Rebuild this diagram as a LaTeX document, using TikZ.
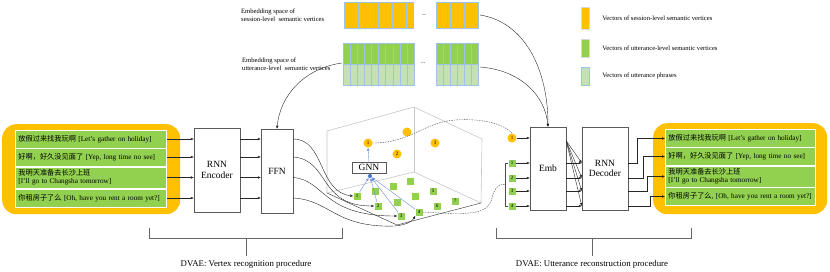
\documentclass[tikz,border=0pt]{standalone}
\usepackage{fontspec}
\setmainfont{Liberation Serif}
\newfontfamily\cjk{Noto Sans CJK SC}
\usepackage{xcolor}
\usetikzlibrary{arrows.meta,positioning,calc}
\definecolor{sessorange}{HTML}{FFC000}
\definecolor{uttgreen}{HTML}{92D050}
\definecolor{phrasegreen}{HTML}{C5E0B4}
\definecolor{cellblue}{HTML}{9DC3E6}
\definecolor{gnnblue}{HTML}{4472C4}
\newcommand{\uttfont}{\fontsize{7.2}{8}\selectfont}
\newcommand{\numfont}{\fontsize{5}{5}\selectfont}

\begin{document}
\begin{tikzpicture}[x=1pt, y=-1pt,
  font=\fontsize{9.5}{10.5}\selectfont,
  box/.style={draw=black!65, align=center, inner sep=0pt},
  grp/.style={fill=sessorange, rounded corners=14pt, anchor=north west},
  utt/.style={fill=uttgreen, draw=white, line width=0.9pt, anchor=west, text width=145pt, inner xsep=3pt, inner ysep=0pt, align=left, font=\uttfont, minimum height=18pt},
  arr/.style={-{Latex[length=3pt,width=2.6pt]}, black!85, line width=0.4pt},
  gline/.style={-{Latex[length=3pt,width=2.4pt]}, gnnblue!80, line width=0.4pt},
  link/.style={black!70, line width=0.4pt, dash pattern=on 1.5pt off 1pt},
  sv/.style={circle, fill=sessorange, inner sep=0pt, minimum size=9pt, font=\numfont},
  uv/.style={fill=uttgreen, inner sep=0pt, minimum size=7pt, font=\numfont},
  wall/.style={black!22, line width=0.6pt},
  cell/.style={draw=cellblue, line width=0.3pt},
  key/.style={draw=black!15, inner sep=0pt, minimum width=8pt, minimum height=18pt},
  lbl/.style={font=\fontsize{6.6}{8}\selectfont, align=left, anchor=west, inner sep=0pt},
  brace/.style={black!60, line width=0.4pt}
]
\useasboundingbox (0,0) rectangle (830,271);

\node[grp, minimum width=178pt, minimum height=90pt] (lgrp) at (2,124) {};
\node[utt] (l1) at (15,139) {{\cjk 放假过来找我玩啊} [Let's gather on holiday]};
\node[utt] (l2) at (15,157) {{\cjk 好啊，好久没见面了} [Yep, long time no see]};
\node[utt, minimum height=21pt] (l3) at (15,177.5) {{\cjk 我明天准备去长沙上班}\\{[}I'll go to Changsha tomorrow{]}};
\node[utt] (l4) at (15,198) {{\cjk 你租房子了么} [Oh, have you rent a room yet?]};

\node[box, minimum width=46pt, minimum height=84pt] (enc) at (217,170) {RNN\\Encoder};
\node[box, minimum width=32pt, minimum height=84pt] (ffn) at (277,171) {FFN};
\foreach \r in {l1,l2,l3,l4} {
  \draw[arr] (\r.east) -- (enc.west |- \r.east);
  \draw[arr] (enc.east |- \r.east) -- (ffn.west |- \r.east);
}

\foreach \i in {0,...,9} \draw[cell, fill=sessorange] (344+6.9*\i,2) rectangle ++(6.9,26);
\foreach \i in {0,...,5} \draw[cell, fill=sessorange] (436+7*\i,2) rectangle ++(7,26);
\foreach \i in {0,...,9} {
  \draw[cell, fill=uttgreen] (343+7.1*\i,43) rectangle ++(7.1,21);
  \draw[cell, fill=phrasegreen] (343+7.1*\i,64) rectangle ++(7.1,21);
}
\foreach \i in {0,...,5} {
  \draw[cell, fill=uttgreen] (436+7*\i,43) rectangle ++(7,21);
  \draw[cell, fill=phrasegreen] (436+7*\i,64) rectangle ++(7,21);
}
\node[font=\fontsize{6}{6}\selectfont] (sdash) at (424,16) {--};
\node[font=\fontsize{6}{6}\selectfont] (udots) at (423,63) {...};
\coordinate (sessend) at (480,15);
\coordinate (uttend) at (480,67);
\coordinate (uttstart) at (342,63);
\node[lbl] (sesstxt) at (241,15) {Embedding space of\\session-level\ \ semantic vertices};
\node[lbl] (utttxt) at (242,64) {Embedding space of\\utterance-level\ \ semantic vertices};

\node[key, fill=sessorange, minimum height=22pt] (key1) at (585,18) {};
\node[key, fill=uttgreen] (key2) at (585,48) {};
\node[key, draw=cellblue, fill=phrasegreen] (key3) at (585,76) {};
\node[lbl, right=13pt of key1] (keytxt1) {Vectors of session-level semantic vertices};
\node[lbl, right=13pt of key2] (keytxt2) {Vectors of utterance-level semantic vertices};
\node[lbl, right=13pt of key3] (keytxt3) {Vectors of utterance phrases};

\coordinate (bt) at (414,107);
\coordinate (bb) at (414,172);
\coordinate (lt) at (327,131);
\coordinate (lb) at (327,193);
\coordinate (rt) at (482,139);
\coordinate (rb) at (481,203);
\coordinate (fc) at (397,225);
\draw[wall] (lb) -- (lt) -- (bt) -- (rt) -- (rb);
\draw[wall] (bt) -- (bb);
\draw[wall] (lb) -- (bb) -- (rb);
\draw[black!70, line width=0.5pt] (lb) -- (fc) -- (rb);

\node[sv] (o1) at (368,143) {1};
\node[sv] (o0) at (407,132) {};
\node[sv] (o2) at (397,154) {2};
\node[sv] (o3) at (435,143) {3};
\node[box, minimum width=34pt, minimum height=11pt] (gnn) at (369,167.5) {GNN};
\node[circle, fill=gnnblue, inner sep=0pt, minimum size=4pt] (gdot) at (370,176) {};
\draw[gline] (gnn.north) -- (o1.south);

\node[uv] (g1) at (357,196) {1};
\node[uv] (g2) at (378,206) {2};
\node[uv] (g3) at (401,216) {3};
\node[uv] (g4) at (419,212) {4};
\node[uv] (g5) at (433,191) {5};
\node[uv] (g6) at (437,206) {6};
\node[uv] (g7) at (455,201) {7};
\foreach \p [count=\k] in {(375,191),(393,186),(410,181),(397,202),(415,196)}
  \node[uv] (gx\k) at \p {};
\foreach \g in {g1,g2,g3,g4} \draw[gline] (\g) -- (gdot);

\draw[arr] (ffn.east |- l1.east) .. controls (325,139) and (318,192) .. (g1.west);
\draw[arr] (ffn.east |- l2.east) .. controls (330,160) and (318,206) .. (g2.west);
\draw[arr] (ffn.east |- l3.east) .. controls (325,180) and (322,216) .. (g3.west);
\draw[arr] (ffn.east |- l4.east) .. controls (330,200) and (335,228) .. (395,226) .. controls (405,225) and (412,222) .. (g4.south west);

\node[box, minimum width=36pt, minimum height=83pt] (emb) at (548,168.5) {Emb};
\node[box, minimum width=46pt, minimum height=83pt] (dec) at (605,168.5) {RNN\\Decoder};
\node[sv] (e1) at (512,138) {1};
\node[uv] (f1) at (512,163) {1};
\node[uv] (f2) at (512,178) {2};
\node[uv] (f3) at (512,191) {3};
\node[uv] (f4) at (512,206) {4};
\draw[black!70, line width=0.4pt] (f1.west) -- ++(-3,0) |- (f4.west);
\coordinate (fbr) at ($(f1.west)!0.5!(f4.west)+(-3,0)$);
\coordinate (fan) at ($(emb.north east)+(0,14)$);
\draw[arr] (e1) -- (emb.west |- e1);
\foreach \f in {f1,f2,f3,f4} {
  \draw[arr] (\f) -- (emb.west |- \f);
  \draw[arr] (emb.east |- \f) -- (dec.west |- \f);
  \draw[arr] (fan) -- (dec.west |- \f);
}

\draw[link] (o1.east) .. controls (410,143) and (425,122) .. (455,120) .. controls (485,118) and (505,125) .. (e1.north);
\draw[link] (g4.east) .. controls (470,215) and (488,215) .. (492,198) .. controls (495,186) and (500,184) .. (fbr);

\draw[arr] (uttstart) .. controls (305,68) and (280,95) .. (ffn.north);
\draw[arr] (sessend) .. controls (525,22) and (548,70) .. (emb.north);
\draw[arr] (uttend) .. controls (520,70) and (545,95) .. (emb.north);

\node[grp, minimum width=174pt, minimum height=91pt] (rgrp) at (653,123) {};
\node[utt, text width=144pt] (r1) at (665,138.5) {{\cjk 放假过来找我玩啊} [Let's gather on holiday]};
\node[utt, text width=144pt] (r2) at (665,156.5) {{\cjk 好啊，好久没见面了} [Yep, long time no see]};
\node[utt, text width=144pt, minimum height=21pt] (r3) at (665,176.5) {{\cjk 我明天准备去长沙上班}\\{[}I'll go to Changsha tomorrow{]}};
\node[utt, text width=144pt] (r4) at (665,196.5) {{\cjk 你租房子了么}, [Oh, have you rent a room yet?]};
\draw[arr] (dec.east |- f1) -- ++(9,0) |- (r1.west);
\draw[arr] (dec.east |- f2) -- ++(15,0) |- (r2.west);
\draw[arr] (dec.east |- f3) -- ++(19,0) |- (r3.west);
\draw[arr] (dec.east |- f4) -- ++(22,0) |- (r4.west);

\draw[brace] (149,228) |- (342,238) -- (342,228);
\node[font=\fontsize{8.8}{10}\selectfont] (vtxt) at (246,264) {DVAE: Vertex recognition procedure};
\draw[brace] (vtxt.north |- 0,238) -- (vtxt.north);
\draw[brace] (496,228) |- (691,238) -- (691,228);
\node[font=\fontsize{8.8}{10}\selectfont] (utxt) at (592,264) {DVAE: Utterance reconstruction procedure};
\draw[brace] (utxt.north |- 0,238) -- (utxt.north);
\end{tikzpicture}
\end{document}
